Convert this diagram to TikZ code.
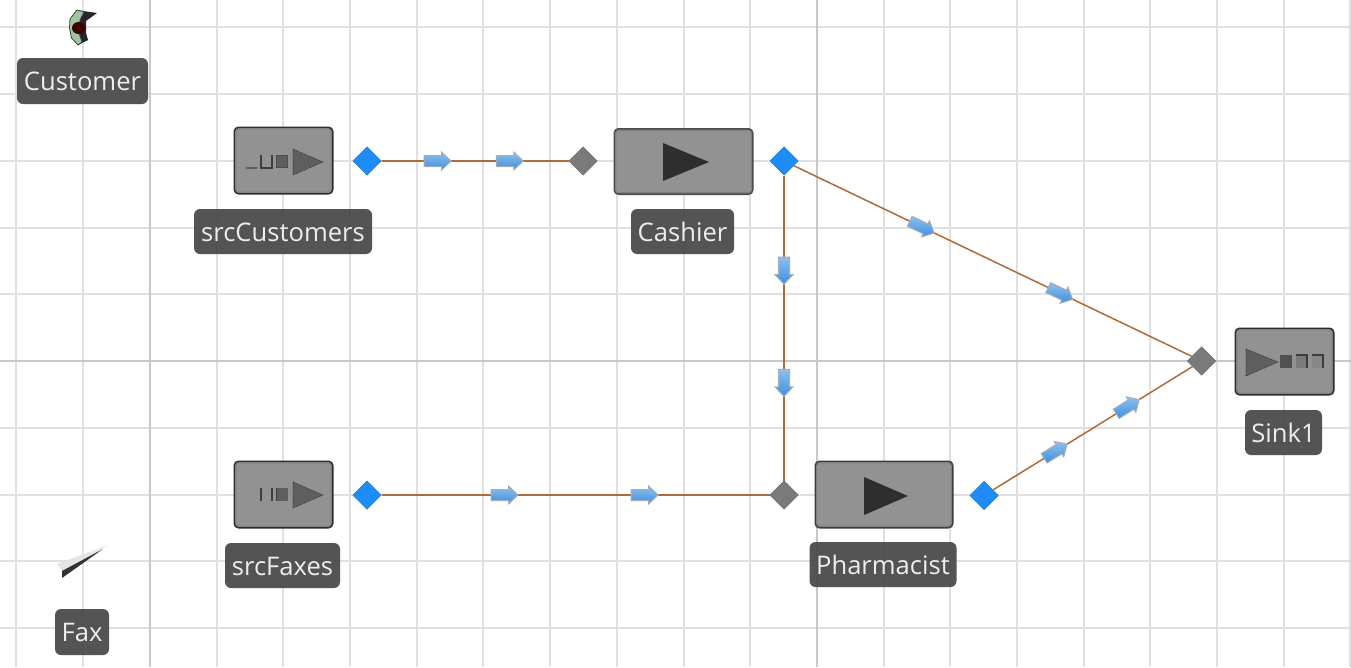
\documentclass[tikz,border=0pt]{standalone}
\usepackage{fontspec}
\setmainfont{Open Sans}
\usetikzlibrary{shapes.geometric}
\definecolor{gridc}{HTML}{E0E0E0}
\definecolor{gridm}{HTML}{C8C8C8}
\definecolor{boxc}{HTML}{929292}
\definecolor{boxe}{HTML}{2E2E2E}
\definecolor{labc}{HTML}{4A4A4A}
\definecolor{blueport}{HTML}{1E8CF5}
\definecolor{greyport}{HTML}{7A7A7A}
\definecolor{conn}{HTML}{B06A3A}
\definecolor{icond}{HTML}{2E2E2E}
\definecolor{iconm}{HTML}{5E5E5E}
\definecolor{flowlight}{HTML}{8CC0EE}
\definecolor{flowdark}{HTML}{3F8FDF}
\definecolor{flowedge}{HTML}{A4AEBC}
\tikzset{
  x=1pt,y=-1pt,
  unitbox/.style={draw=boxe,line width=2pt,fill=boxc,rounded corners=4pt,inner sep=0pt},
  rim/.style={draw=black!50,line width=1.2pt,rounded corners=3pt},
  lab/.style={fill=labc,fill opacity=.94,text opacity=1,text=white!93!black,rounded corners=6pt,inner sep=0pt,font=\fontsize{25.6}{28}\selectfont,anchor=center,text height=21.5pt,text depth=2.5pt},
  outport/.style={diamond,fill=blueport,draw=blueport!85!black,line width=.5pt,inner sep=0pt,minimum size=28.5pt},
  inport/.style={diamond,fill=greyport,draw=greyport!85!black,line width=.5pt,inner sep=0pt,minimum size=28.5pt},
  link/.style={draw=conn,line width=1.5pt},
  gridline/.style={draw=gridc,line width=1.3pt},
  majorline/.style={draw=gridm,line width=1.7pt},
  flow/.pic={
    \path[draw=flowedge,line width=1pt,top color=flowlight,bottom color=flowdark]
      (-13.5,-5.5)--(4,-5.5)--(4,-9)--(13.5,0)--(4,9)--(4,5.5)--(-13.5,5.5)--cycle;
  },
  flowat/.style={pos=#1,sloped,allow upside down},
  tri/.style={fill=iconm,draw=icond,line width=.7pt,densely dotted},
}
\newcommand{\labelbox}[6]{%
  \node[lab,minimum width=#4pt,minimum height=#5pt] (#1) at (#2,#3) {#6};}
\begin{document}
\begin{tikzpicture}
\useasboundingbox (0,0) rectangle (1351,667);
\fill[white] (0,0) rectangle (1351,667);
% grid
\foreach \gx in {16,83,217,283,350,417,483,550,617,684,750,884,950,1017,1084,1150,1217,1284,1350}
  \draw[gridline] (\gx,0)--(\gx,667);
\foreach \gy in {27,94,161,228,294,428,495,561,628}
  \draw[gridline] (0,\gy)--(1351,\gy);
\foreach \gx in {150,817} \draw[majorline] (\gx,0)--(\gx,667);
\draw[majorline] (0,361)--(1351,361);

% unit boxes
\node[unitbox,minimum width=98pt,minimum height=66pt] (srcC) at (283.5,160.5) {};
\node[unitbox,minimum width=138pt,minimum height=65pt,draw=boxe!70!boxc] (cash) at (683.5,161.5) {};
\node[unitbox,minimum width=137pt,minimum height=66pt,draw=boxe!85!boxc] (pharm) at (884,494.5) {};
\node[unitbox,minimum width=98pt,minimum height=66pt] (sink) at (1284.5,361.5) {};
\node[unitbox,minimum width=98pt,minimum height=66pt] (srcF) at (283.5,494.5) {};
\foreach \b in {srcC,cash,pharm,sink,srcF}
  \draw[rim] ([shift={(2.2,2.2)}]\b.north west) rectangle ([shift={(-2.2,-2.2)}]\b.south east);

% icons in the boxes
\fill[icond] (663,143)--(709,162)--(663,181)--cycle;
\fill[icond] (864,477)--(908,496)--(864,515)--cycle;
\path[tri] (293,149)--(323,162)--(293,175)--cycle;
\path[tri] (293,482)--(323,495)--(293,508)--cycle;
\path[tri] (1246,349)--(1278,362)--(1246,376)--cycle;
% srcCustomers queue
\draw[draw=iconm,line width=2pt] (246,167.5)--(257,167.5);
\draw[draw=icond!85!boxc,line width=2pt] (261,155)--(261,167.5)--(272,167.5)--(272,155);
\filldraw[fill=iconm,draw=icond!70!boxc,line width=1.2pt] (276.5,155.5)--(287.5,155.5)--(287.5,167.5)--(276.5,167.5)--cycle;
% srcFaxes queue
\draw[draw=icond!85!boxc,line width=2pt] (260.5,488)--(260.5,501) (271.5,488)--(271.5,501);
\draw[draw=icond!85!boxc,line width=2pt] (276.5,488)--(276.5,501);
\fill[iconm] (277,488)--(288,488)--(288,501)--(277,501)--cycle;
% Sink1 queue
\fill[iconm!85!black] (1280,355)--(1292,355)--(1292,368)--(1280,368)--cycle;
\fill[black!52] (1296,355)--(1307,355)--(1307,368)--(1296,368)--cycle;
\draw[draw=icond!85!boxc,line width=1.6pt] (1296,355)--(1307,355)--(1307,368);
\fill[black!47] (1312,355)--(1323,355)--(1323,368)--(1312,368)--cycle;
\draw[draw=icond!85!boxc,line width=1.6pt] (1312,355)--(1323,355)--(1323,368);

% ports
\node[outport] (outC) at (367,161) {};
\node[inport] (inCash) at (583,161) {};
\node[outport] (outCash) at (784,161) {};
\node[outport] (outF) at (367,495) {};
\node[inport] (inPharm) at (784,495) {};
\node[outport] (outPharm) at (984,495.5) {};
\node[inport] (inSink) at (1201.5,361) {};

% connectors
\draw[link] (outC) -- (inCash)
  pic[flowat=.30]{flow} pic[flowat=.686]{flow};
\draw[link] (outCash) -- (inSink)
  pic[flowat=.322]{flow} pic[flowat=.67]{flow};
\draw[link] (outCash) -- (inPharm)
  pic[flowat=.312]{flow} pic[flowat=.68]{flow};
\draw[link] (outF) -- (inPharm)
  pic[flowat=.317]{flow} pic[flowat=.678]{flow};
\draw[link] (outPharm) -- (inSink)
  pic[flowat=.314]{flow} pic[flowat=.675]{flow};

% agent icons
\fill[black!85] (76,10)--(97,13)--(86,21)--(86,33)--(88,40)--(78,45)--(72,30)--cycle;
\filldraw[fill=green!25!gray!60!white,draw=black!75,line width=.8pt] (77,10)--(84,12)--(80,20)--(79,33)--(82,42)--(78,45)--(71.5,38)--(69.5,28)--(70,19)--cycle;
\fill[black!65!red!70!black] (78.5,28) ellipse (6.5pt and 6pt);
\fill[black!10] (57,564)--(108,545)--(63,572)--cycle;
\fill[black!80] (62,578)--(62,571)--(103,549)--cycle;

% labels
\labelbox{tCust}{82.5}{81}{131}{46}{Customer}
\labelbox{tFax}{82}{632}{54}{46}{Fax}
\labelbox{tSrcC}{283}{231.5}{178}{45}{srcCustomers}
\labelbox{tCash}{682.5}{231.5}{103}{45}{Cashier}
\labelbox{tSrcF}{282.5}{565.5}{115}{45}{srcFaxes}
\labelbox{tPharm}{883}{564.5}{147}{45}{Pharmacist}
\labelbox{tSink}{1283.5}{432.5}{77}{45}{Sink1}
\end{tikzpicture}
\end{document}
